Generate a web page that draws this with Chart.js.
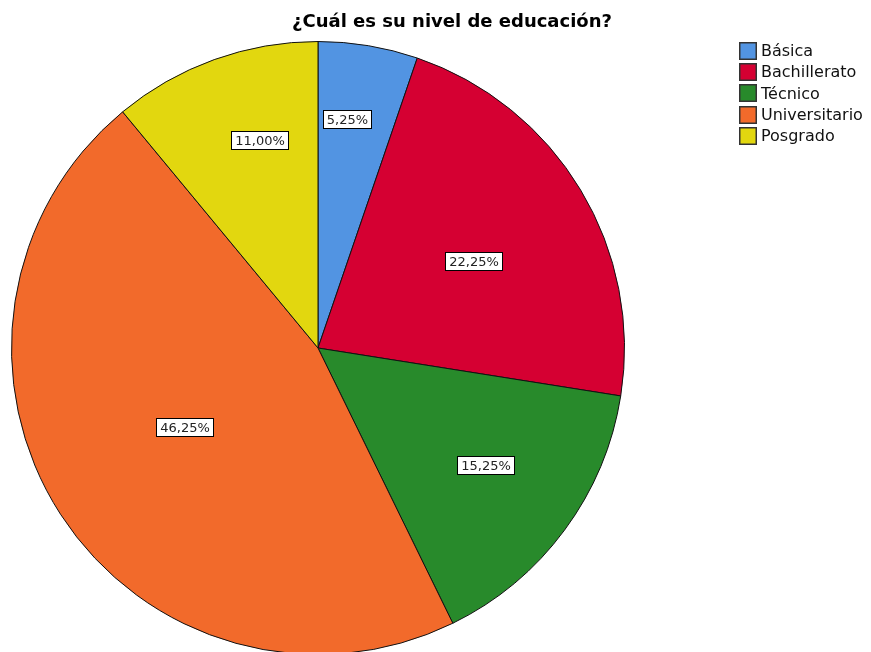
<!DOCTYPE html>
<html>
<head>
<meta charset="utf-8">
<script src="https://cdn.jsdelivr.net/npm/chart.js@4"></script>
<style>
  html, body { margin: 0; padding: 0; background: #fff; overflow: hidden; }
  canvas { display: block; }
</style>
</head>
<body>
<canvas id="pieChart" width="871" height="662"></canvas>
<script>
// Data
const categories = ["Básica", "Bachillerato", "Técnico", "Universitario", "Posgrado"];
const percents = [5.25, 22.25, 15.25, 46.25, 11.00];
const sliceColors = ["#5294E2", "#D50032", "#288A2B", "#F26A2B", "#E2D70F"];
const chartTitle = "¿Cuál es su nivel de educación?";

// label placement: share of radius, and turn from the slice middle (degrees)
const labelRadius = [0.752, 0.581, 0.668, 0.506, 0.703];
const labelTurn = [-2.1, 2.05, -1.5, 1.85, 4.2];

function fmt(v) {
  return v.toFixed(2).replace(".", ",") + "%";
}

const extras = {
  id: "extras",
  afterDatasetsDraw(chart) {
    const ctx = chart.ctx;
    const meta = chart.getDatasetMeta(0);

    // value labels in white boxes
    ctx.save();
    ctx.font = "13px 'DejaVu Sans'";
    ctx.textAlign = "center";
    ctx.textBaseline = "middle";
    meta.data.forEach((arc, i) => {
      const mid = (arc.startAngle + arc.endAngle) / 2 + labelTurn[i] * Math.PI / 180;
      const r = arc.outerRadius * labelRadius[i];
      const x = arc.x + Math.cos(mid) * r;
      const y = arc.y + Math.sin(mid) * r;
      const txt = fmt(percents[i]);
      const w = Math.round(ctx.measureText(txt).width + 8);
      const h = 19;
      const bx = Math.round(x - w / 2);
      const by = Math.round(y - h / 2);
      ctx.fillStyle = "#fff";
      ctx.fillRect(bx, by, w, h);
      ctx.strokeStyle = "#000";
      ctx.lineWidth = 1;
      ctx.strokeRect(bx + 0.5, by + 0.5, w - 1, h - 1);
      ctx.fillStyle = "#222";
      ctx.fillText(txt, bx + w / 2, by + h / 2 + 1);
    });
    ctx.restore();

    // title
    ctx.save();
    ctx.font = "bold 18px 'DejaVu Sans'";
    ctx.fillStyle = "#000";
    ctx.textAlign = "center";
    ctx.textBaseline = "middle";
    ctx.fillText(chartTitle, 452, 22);
    ctx.restore();

    // legend
    ctx.save();
    ctx.font = "16px 'DejaVu Sans'";
    ctx.textBaseline = "middle";
    categories.forEach((c, i) => {
      const y = 51 + i * 21.2;
      const top = Math.round(y - 9);
      ctx.fillStyle = sliceColors[i];
      ctx.fillRect(739, top, 18, 18);
      ctx.strokeStyle = "#333";
      ctx.lineWidth = 1.5;
      ctx.strokeRect(739.75, top + 0.75, 16.5, 16.5);
      ctx.fillStyle = "#111";
      ctx.fillText(c, 761, y + 1);
    });
    ctx.restore();
  }
};

new Chart(document.getElementById("pieChart"), {
  type: "pie",
  data: {
    labels: categories,
    datasets: [{
      data: percents,
      backgroundColor: sliceColors,
      borderColor: "#111",
      borderWidth: 1
    }]
  },
  options: {
    responsive: false,
    animation: false,
    layout: { padding: { left: 11, top: 41, right: 246, bottom: 7 } },
    plugins: {
      legend: { display: false },
      tooltip: { enabled: false },
      title: { display: false }
    }
  },
  plugins: [extras]
});
</script>
</body>
</html>
